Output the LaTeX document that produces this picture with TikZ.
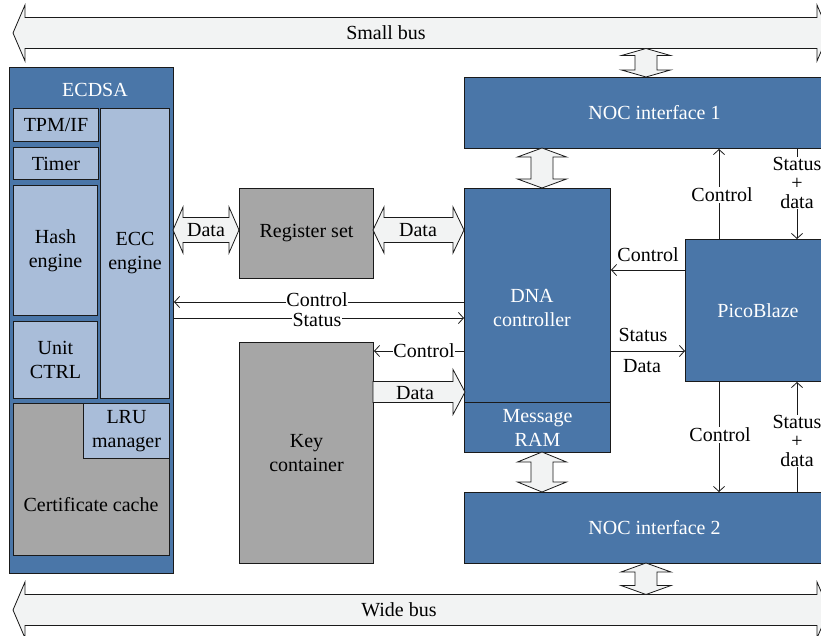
\documentclass[tikz,border=0pt]{standalone}
\usepackage{fontspec}
\setmainfont{Liberation Serif}
\usetikzlibrary{arrows.meta,calc}
\definecolor{dkblue}{HTML}{4A76A8}
\definecolor{ltblue}{HTML}{A9BDD9}
\definecolor{boxgray}{HTML}{A6A6A6}
\definecolor{arrfill}{HTML}{F2F3F3}
\definecolor{edge}{HTML}{1A1A1A}
\newcommand\hdarr[6]{% x1 x2 yc shaft-half head-half headlen
 \draw[bigarr] (#1,#3) -- (#1+#6,#3-#5) -- (#1+#6,#3-#4) -- (#2-#6,#3-#4) -- (#2-#6,#3-#5) -- (#2,#3) -- (#2-#6,#3+#5) -- (#2-#6,#3+#4) -- (#1+#6,#3+#4) -- (#1+#6,#3+#5) -- cycle;}
\newcommand\vdarr[6]{% y1 y2 xc shaft-half head-half headlen
 \draw[bigarr] (#3,#1) -- (#3+#5,#1+#6) -- (#3+#4,#1+#6) -- (#3+#4,#2-#6) -- (#3+#5,#2-#6) -- (#3,#2) -- (#3-#5,#2-#6) -- (#3-#4,#2-#6) -- (#3-#4,#1+#6) -- (#3-#5,#1+#6) -- cycle;}
\begin{document}
\begin{tikzpicture}[x=1pt,y=-1pt,
  every node/.style={font=\fontsize{20}{24}\selectfont, inner sep=0pt},
  blk/.style={draw=edge, line width=1pt, anchor=north west, align=center},
  dark/.style={blk, fill=dkblue, text=white},
  light/.style={blk, fill=ltblue},
  grey/.style={blk, fill=boxgray},
  bigarr/.style={draw=edge, line width=0.8pt, fill=arrfill, line join=miter},
  sig/.style={draw=edge, line width=0.8pt},
  sigarr/.style={sig, -{Straight Barb[length=5pt,width=11pt]}},
  lab/.style={fill=white, inner sep=0.5pt},
  stack/.style={lab, align=center, font=\fontsize{20}{19}\selectfont},
]
\useasboundingbox (0,0) rectangle (821,636);
\clip (0,0) rectangle (821,636);

% buses
\hdarr{13}{829}{33}{15.5}{28}{12}
\node (smallbus) at (386,33) {Small bus};
\hdarr{13}{829}{610}{15.5}{28}{12}
\node (widebus) at (399,610) {Wide bus};

% ECDSA block
\node[dark, minimum width=164, minimum height=506] (ecdsa) at (9,67) {};
\node[text=white] (ecdsalab) at (95,90) {ECDSA};
\node[light, minimum width=85, minimum height=33] (tpm) at (13,108) {TPM/IF};
\node[light, minimum width=85, minimum height=32] (timer) at (13,147) {Timer};
\node[light, minimum width=84, minimum height=130] (hash) at (13,185) {Hash\\engine};
\node[light, minimum width=84, minimum height=77] (uctrl) at (13,321) {Unit\\CTRL};
\node[light, minimum width=69, minimum height=290] (ecc) at (100,108) {ECC\\engine};
\node[grey, minimum width=156, minimum height=152] (cert) at (13,403) {};
\node (certlab) at (91,505) {Certificate cache};
\node[light, minimum width=86, minimum height=55] (lru) at (83,403) {LRU\\manager};

% middle blocks
\node[grey, minimum width=134, minimum height=90] (reg) at (239,188) {Register set};
\node[grey, minimum width=134, minimum height=221] (key) at (239,342) {Key\\container};

% right blocks
\node[dark, minimum width=146, minimum height=214] (dna) at (464,188) {};
\node[text=white, align=center] (dnalab) at (532,308) {DNA\\controller};
\node[dark, minimum width=146, minimum height=50] (ram) at (464,402) {Message\\RAM};
\node[dark, minimum width=380, minimum height=71] (noc1) at (464,77) {NOC interface 1};
\node[dark, minimum width=380, minimum height=71] (noc2) at (464,492) {NOC interface 2};
\node[dark, minimum width=145, minimum height=142] (pico) at (685,239) {PicoBlaze};

% block arrows
\hdarr{173}{239}{230}{12.5}{23}{10}
\node (d1) at (206,230) {Data};
\hdarr{373}{464}{230}{12.5}{23}{11}
\node (d2) at (418,230) {Data};
\draw[bigarr] (373,381.5) -- (453,381.5) -- (453,369.5) -- (465,392) -- (453,414.5) -- (453,402.5) -- (373,402.5) -- cycle;
\node (d3) at (415,393) {Data};
\vdarr{48.5}{77}{646}{11}{24.5}{7}
\vdarr{148}{188}{542}{11}{24.5}{9}
\vdarr{452}{492}{542}{11}{24.5}{10}
\vdarr{563}{594.5}{646}{11}{25}{9}

% control / status lines
\coordinate (yc1) at (0,302);
\coordinate (yc2) at (0,318);
\coordinate (yc3) at (0,351);
\coordinate (yc4) at (0,270);
\coordinate (yc5) at (0,351);
\coordinate (xa) at (719,0);
\coordinate (xb) at (797,0);

\draw[sigarr] (dna.west |- yc1) -- (ecdsa.east |- yc1);
\draw[sigarr] (ecdsa.east |- yc2) -- (dna.west |- yc2);
\node[lab] (c1) at (317,300) {Control};
\node[lab] (s1) at (317,319.5) {Status};

\draw[sigarr] (dna.west |- yc3) -- (key.east |- yc3);
\node[lab] (c2) at (424,351) {Control};

\draw[sigarr] (pico.west |- yc4) -- (dna.east |- yc4);
\node (c3) at (648,255) {Control};
\draw[sigarr] (dna.east |- yc5) -- (pico.west |- yc5);
\node (s3) at (643,335) {Status};
\node (d4) at (642,366) {Data};

\draw[sigarr] (pico.north -| xa) -- (noc1.south -| xa);
\node[lab] (c4) at (722,195) {Control};
\draw[sigarr] (noc1.south -| xb) -- (pico.north -| xb);
\node[stack] (sd1) at (797,183) {Status\\+\\data};

\draw[sigarr] (pico.south -| xa) -- (noc2.north -| xa);
\node[lab] (c5) at (720,435) {Control};
\draw[sigarr] (noc2.north -| xb) -- (pico.south -| xb);
\node[stack] (sd2) at (797,441) {Status\\+\\data};
\end{tikzpicture}
\end{document}
